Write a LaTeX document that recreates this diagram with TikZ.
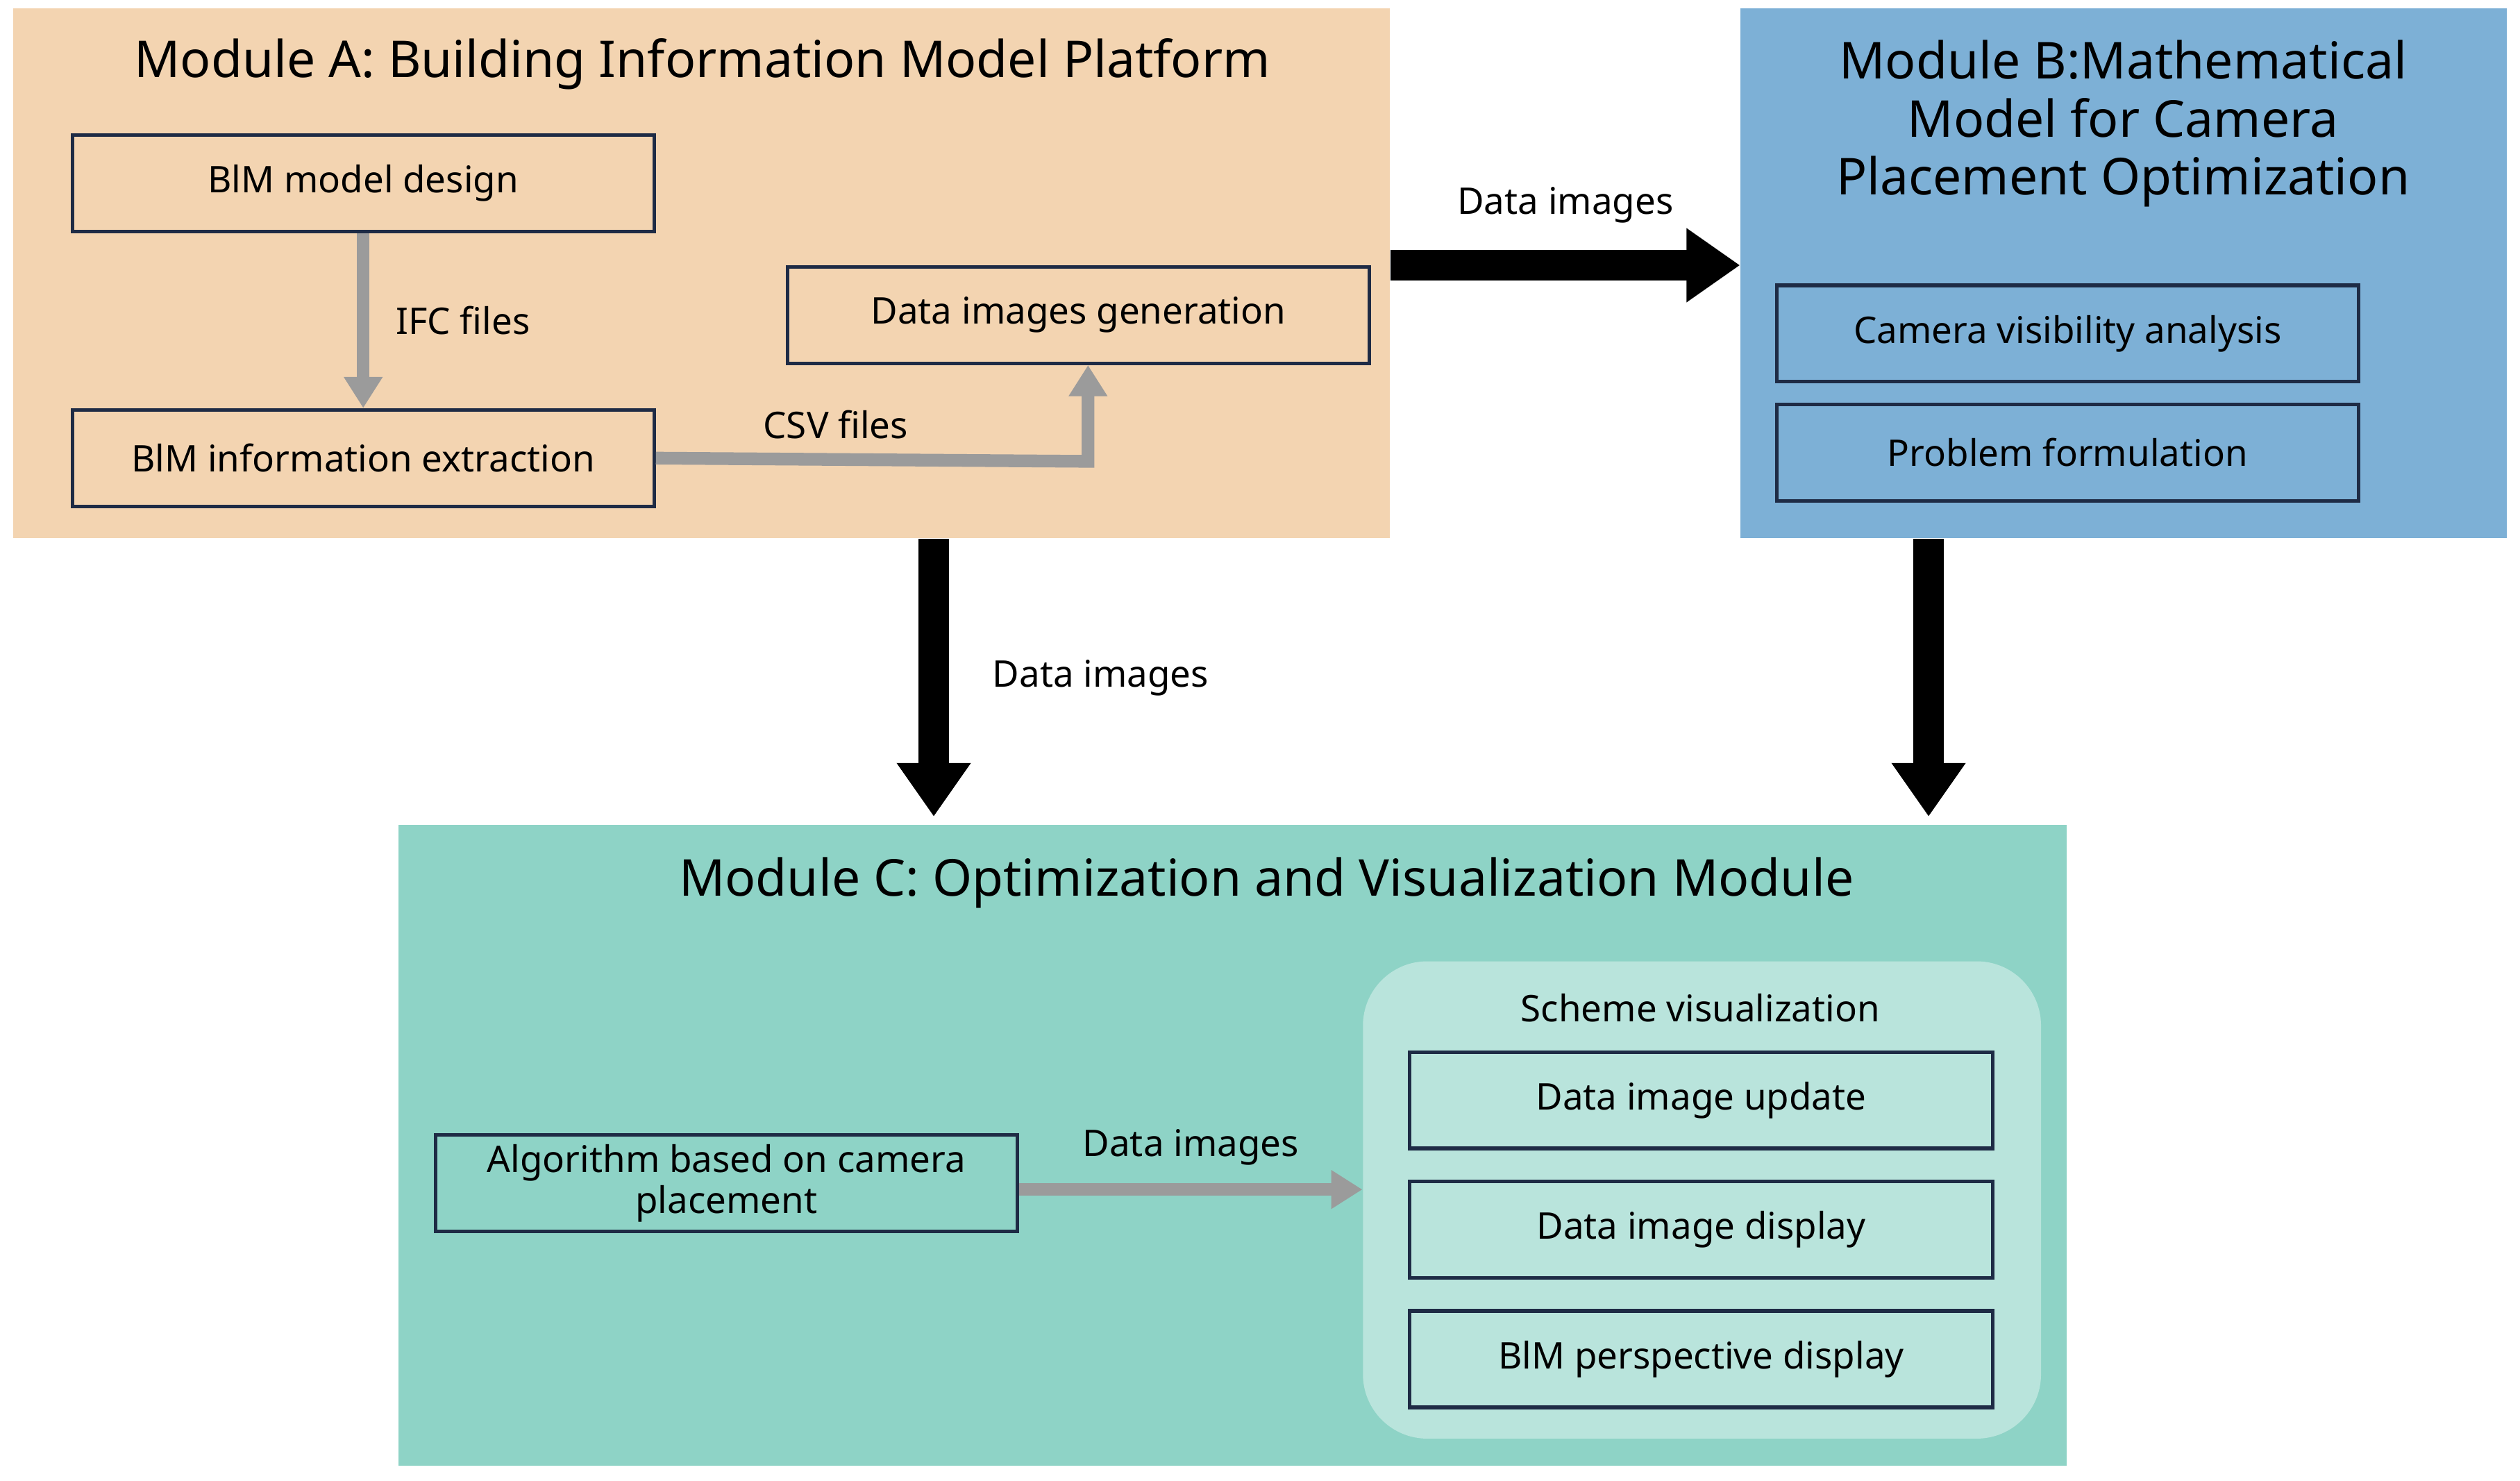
\documentclass[tikz,border=0pt]{standalone}
\usepackage{fontspec}
\setmainfont{Noto Sans}
\usetikzlibrary{arrows.meta}
\definecolor{peach}{HTML}{F3D4B1}
\definecolor{bblue}{HTML}{7DB0D6}
\definecolor{teal}{HTML}{8ED3C6}
\definecolor{lteal}{HTML}{B9E4DC}
\definecolor{navy}{HTML}{1E2B45}
\definecolor{garr}{HTML}{9B9B9B}
\begin{document}
\begin{tikzpicture}[x=0.02cm,y=-0.02cm,
  box/.style={draw=navy,line width=1.3pt,minimum width=7.24cm,minimum height=1.2cm,inner sep=0pt,font=\fontsize{13}{15}\selectfont\bfseries,align=center},
  ttl/.style={font=\fontsize{18}{23}\selectfont\bfseries,align=center},
  lbl/.style={font=\fontsize{13}{15}\selectfont\bfseries},
  garrow/.style={draw=garr,line width=4.5pt,-{Triangle[width=13pt,length=11pt]}},
  barrow/.style={draw=black,line width=11pt,-{Triangle[width=25pt,length=19pt]}}]
\useasboundingbox (0,0) rectangle (1568,921);
% Module A
\node[fill=peach,minimum width=17.14cm,minimum height=6.6cm,inner sep=0pt] (A) at (436.5,170) {};
\node[ttl] (At) at (437,40) {Module A: Building Information Model Platform};
\node[box] (a1) at (226,114) {BlM model design};
\node[box] (a2) at (226,285) {BlM information extraction};
\node[box] (a3) at (671,196) {Data images generation};
\draw[garrow] (a1) -- node[lbl,right=6pt]{IFC files} (a2);
\draw[garrow] (a2.east) -- (677,287) -- (a3.south -| 677,0);
\node[lbl] (csv) at (520,264) {CSV files};
% Module B
\node[fill=bblue,minimum width=9.54cm,minimum height=6.6cm,inner sep=0pt] (B) at (1321.5,170) {};
\node[ttl,font=\fontsize{18}{20.5}\selectfont\bfseries] (Bt) at (1321,77) {Module B:Mathematical\\Model for Camera\\Placement Optimization};
\node[box] (b1) at (1286.5,207.5) {Camera visibility analysis};
\node[box] (b2) at (1286.5,281.5) {Problem formulation};
% Module C
\node[fill=teal,minimum width=20.76cm,minimum height=7.98cm,inner sep=0pt] (C) at (767,712.5) {};
\node[ttl] (Ct) at (788,549) {Module C: Optimization and Visualization Module};
\node[fill=lteal,rounded corners=0.8cm,minimum width=8.44cm,minimum height=5.94cm,inner sep=0pt] (S) at (1059,746.5) {};
\node[lbl] (St) at (1058,627) {Scheme visualization};
\node[box,fill=lteal,minimum width=7.26cm] (c1) at (1058.5,684.5) {Data image update};
\node[box,fill=lteal,minimum width=7.26cm] (c2) at (1058.5,765) {Data image display};
\node[box,fill=lteal,minimum width=7.26cm] (c3) at (1058.5,845.5) {BlM perspective display};
\node[box,font=\fontsize{13}{14.5}\selectfont\bfseries] (alg) at (452,736) {Algorithm based on camera\\placement};
\draw[garrow] (alg.east |- 0,740) -- node[lbl,above=3pt]{Data images} (S.west |- 0,740);
% black arrows
\draw[barrow] (A.east |- 0,165) -- node[lbl,above=6pt]{Data images} (B.west |- 0,165);
\draw[barrow] (A.south -| 581,0) -- node[lbl,right=12pt]{Data images} (581,508);
\draw[barrow] (B.south -| 1200,0) -- (1200,508);
\end{tikzpicture}
\end{document}
